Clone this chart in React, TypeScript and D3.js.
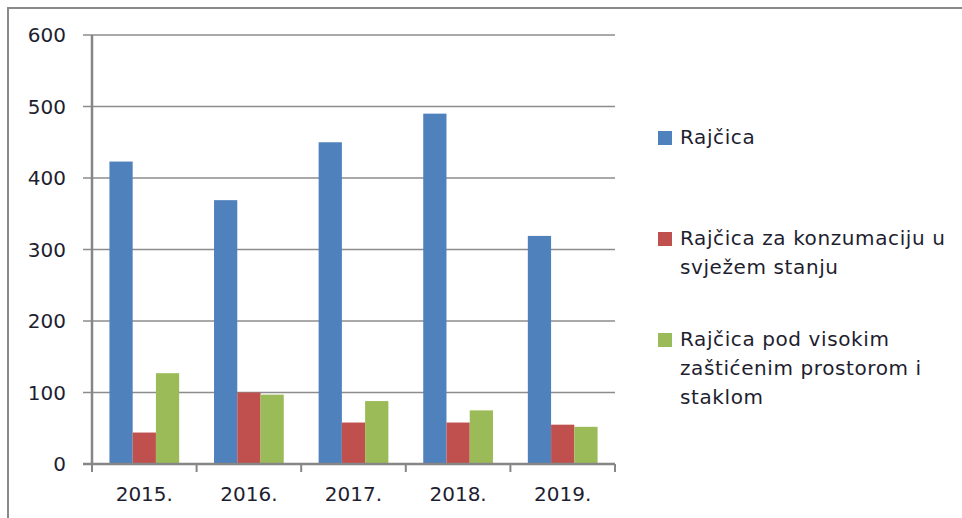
import React from "react";
import * as d3 from "d3";

const years = ["2015.", "2016.", "2017.", "2018.", "2019."];
const seriesNames = [
  ["Rajčica"],
  ["Rajčica za konzumaciju u", "svježem stanju"],
  ["Rajčica pod visokim", "zaštićenim prostorom i", "staklom"],
];
const rajcica = [423, 369, 450, 490, 319];
const svjeza = [44, 100, 58, 58, 55];
const zasticena = [127, 97, 88, 75, 52];
const yTicks = [0, 100, 200, 300, 400, 500, 600];
const colors = ["#4F81BD", "#C0504D", "#9BBB59"];

const W = 962;
const H = 518;
const font = "'DejaVu Sans', Verdana, sans-serif";

const App = () => {
  const series = [rajcica, svjeza, zasticena];

  const left = 92;
  const right = 615;
  const top = 35;
  const bottom = 464;

  const x = d3.scaleBand().domain(years).range([left, right]).paddingInner(0).paddingOuter(0);
  // bars: group of three, gap of 150% of a bar width
  const barW = x.bandwidth() / (3 + 1.5);
  const xInner = d3.scaleBand().domain(["0", "1", "2"]).range([0, barW * 3]);
  const y = d3.scaleLinear().domain([0, 600]).range([bottom, top]);

  const textColor = "#1e1e30";
  const gridColor = "#8c8c8c";

  // legend rows
  const legendTops = [144, 245, 346];
  const lineH = 29;

  return (
    <svg
      width={W}
      height={H}
      style={{ position: "absolute", left: 0, top: 0, background: "#fff" }}
    >
      {/* outer frame */}
      <rect x={8} y={8} width={W + 20} height={H + 20} fill="none" stroke="#8a8a8a" strokeWidth={2} />

      {/* gridlines + y ticks */}
      {yTicks.map((t) => (
        <g key={t}>
          <line x1={83} x2={t === 0 ? right : right} y1={y(t)} y2={y(t)} stroke={gridColor} strokeWidth={1.6} />
          <text
            x={66}
            y={y(t)}
            dy="0.36em"
            textAnchor="end"
            fontFamily={font}
            fontSize={20}
            fill={textColor}
          >
            {t}
          </text>
        </g>
      ))}

      {/* bars */}
      {years.map((yr, i) => {
        const x0 = (x(yr) as number) + (x.bandwidth() - barW * 3) / 2;
        return (
          <g key={yr}>
            {series.map((s, j) => (
              <rect
                key={j}
                x={x0 + (xInner(String(j)) as number)}
                y={y(s[i])}
                width={barW}
                height={bottom - y(s[i])}
                fill={colors[j]}
              />
            ))}
          </g>
        );
      })}

      {/* axes */}
      <line x1={left} x2={left} y1={top} y2={bottom + 1} stroke="#868686" strokeWidth={2.5} />
      <line x1={83} x2={right} y1={bottom} y2={bottom} stroke="#868686" strokeWidth={2.5} />
      {[...years.map((yr) => x(yr) as number), right].map((v, i) => (
        <line key={i} x1={v} x2={v} y1={bottom} y2={bottom + 8} stroke="#868686" strokeWidth={2} />
      ))}
      {years.map((yr) => (
        <text
          key={yr}
          x={(x(yr) as number) + x.bandwidth() / 2}
          y={501}
          textAnchor="middle"
          fontFamily={font}
          fontSize={20}
          fill={textColor}
        >
          {yr}
        </text>
      ))}

      {/* legend */}
      {seriesNames.map((lines, j) => (
        <g key={j}>
          <rect x={658} y={legendTops[j] - 13} width={14} height={14} fill={colors[j]} />
          {lines.map((ln, k) => (
            <text
              key={k}
              x={680}
              y={legendTops[j] + k * lineH}
              fontFamily={font}
              fontSize={20}
              letterSpacing={0.6}
              fill={textColor}
            >
              {ln}
            </text>
          ))}
        </g>
      ))}
    </svg>
  );
};

export default App;
